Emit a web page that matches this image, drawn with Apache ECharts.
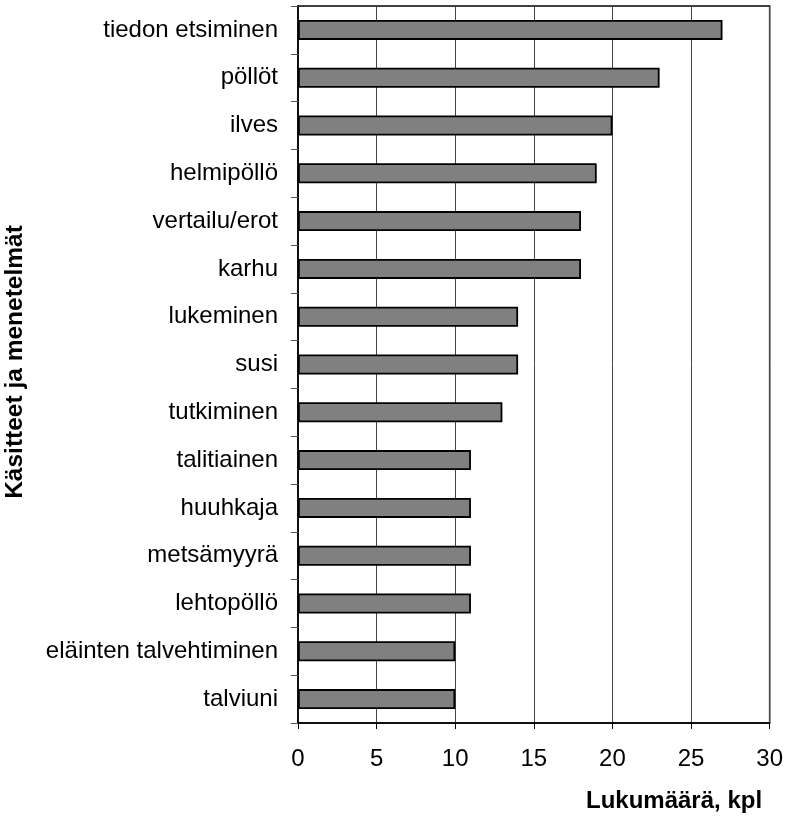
<!DOCTYPE html>
<html>
<head>
<meta charset="utf-8">
<script src="https://cdn.jsdelivr.net/npm/echarts@6/dist/echarts.min.js"></script>
<style>
  html, body { margin: 0; padding: 0; background: #fff; }
  #chart { width: 786px; height: 817px; }
</style>
</head>
<body>
<div id="chart"></div>
<script>
// Categories listed top to bottom
const categories = [
  'tiedon etsiminen', 'pöllöt', 'ilves', 'helmipöllö', 'vertailu/erot',
  'karhu', 'lukeminen', 'susi', 'tutkiminen', 'talitiainen',
  'huuhkaja', 'metsämyyrä', 'lehtopöllö', 'eläinten talvehtiminen', 'talviuni'
];
const counts = [27, 23, 20, 19, 18, 18, 14, 14, 13, 11, 11, 11, 11, 10, 10];
const xTicks = [0, 5, 10, 15, 20, 25, 30];

const xAxisTitle = 'Lukumäärä, kpl';
const yAxisTitle = 'Käsitteet ja menetelmät';

const FONT = '"Liberation Sans", Arial, sans-serif';

const chart = echarts.init(document.getElementById('chart'), null, { renderer: 'canvas' });

chart.setOption({
  animation: false,
  backgroundColor: '#ffffff',
  grid: {
    left: 298, right: 16, top: 6, bottom: 94,
    show: true, borderColor: '#000', borderWidth: 1.5, backgroundColor: 'transparent'
  },
  xAxis: {
    type: 'value',
    min: xTicks[0],
    max: xTicks[xTicks.length - 1],
    interval: 5,
    axisLine: { show: true, lineStyle: { color: '#000', width: 1.5 } },
    axisTick: { show: true, length: 6, lineStyle: { color: '#000' } },
    axisLabel: { fontFamily: FONT, fontSize: 24, color: '#000', margin: 24 },
    splitLine: { show: true, lineStyle: { color: '#444', width: 1 } }
  },
  yAxis: {
    type: 'category',
    data: categories,
    inverse: true,
    axisLine: { show: true, lineStyle: { color: '#000', width: 1.5 } },
    axisTick: { show: true, length: 7, alignWithLabel: false, lineStyle: { color: '#555' } },
    axisLabel: { fontFamily: FONT, fontSize: 24, color: '#000', margin: 20 },
    splitLine: { show: false }
  },
  series: [{
    type: 'bar',
    data: counts,
    barWidth: 20,
    itemStyle: { color: '#808080', borderColor: '#000', borderWidth: 1.8 }
  }],
  graphic: [
    {
      type: 'text',
      left: 586, top: 789,
      style: { text: xAxisTitle, font: 'bold 24px ' + FONT, fill: '#000' }
    },
    {
      type: 'text',
      x: 15, y: 362,
      rotation: Math.PI / 2,
      style: {
        text: yAxisTitle, font: 'bold 24.5px ' + FONT, fill: '#000',
        align: 'center', verticalAlign: 'middle'
      }
    }
  ]
});
</script>
</body>
</html>
